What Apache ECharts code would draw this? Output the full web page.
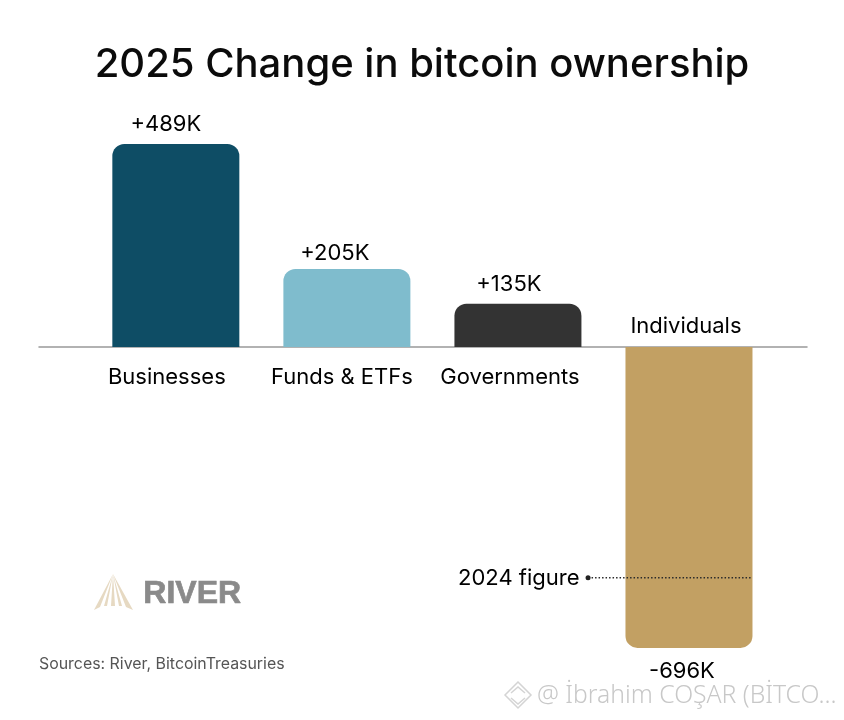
<!DOCTYPE html>
<html><head><meta charset="utf-8">
<style>html,body{margin:0;padding:0;background:#fff}#c{width:844px;height:720px}</style>
<script src="https://cdn.jsdelivr.net/npm/echarts@6/dist/echarts.min.js"></script>
</head><body><div id="c"></div>
<script>
const categories = ['Businesses', 'Funds & ETFs', 'Governments', 'Individuals'];
const valueLabels = ['+489K', '+205K', '+135K', '-696K'];
// Bar lengths as drawn in the picture, in K at the Businesses bar's scale.
// The reference's bars are not exactly proportional to their printed labels.
const drawnLengths = [489, 188, 104, -725];
const barColors = ['#0e4d65', '#7fbccd', '#333333', '#c2a063'];
const figure2024 = -556;
const figure2024Span = [2.41, 3.37];

const F = 'Inter, "Noto Sans", sans-serif';
const valueDx = [-10, -12, -9, -7];
const valueDy = [0, 4, 1, 3];
const nameDx = [-9, -5, -8, -3];

const chart = echarts.init(document.getElementById('c'), null, {renderer: 'canvas'});
chart.setOption({
  animation: false,
  backgroundColor: '#fff',
  title: {
    text: '2025 Change in bitcoin ownership', left: 417, top: 40, textAlign: 'center',
    textStyle: {fontFamily: F, fontSize: 40, fontWeight: 500, color: '#0b0b0b'}
  },
  grid: {left: 39, width: 768, top: 98, height: 581},
  xAxis: {
    type: 'value', min: -0.8, max: 3.69,
    axisLine: {show: true, onZero: true, lineStyle: {color: '#999', width: 1.5}},
    axisTick: {show: false}, axisLabel: {show: false}, splitLine: {show: false}
  },
  yAxis: {type: 'value', min: -800, max: 600, show: false, splitLine: {show: false}},
  series: [
    {
      type: 'bar', barWidth: 127, z: 1,
      data: drawnLengths.map((v, i) => ({
        value: [i, v],
        itemStyle: {color: barColors[i], borderRadius: v >= 0 ? [12, 12, 0, 0] : [0, 0, 12, 12]},
        label: {
          show: true, position: v >= 0 ? 'top' : 'bottom', distance: v >= 0 ? 9 : 10,
          offset: [valueDx[i], valueDy[i]], formatter: valueLabels[i],
          fontFamily: F, fontSize: 22, color: '#000'
        }
      }))
    },
    {
      type: 'scatter', symbolSize: 0, z: 5, silent: true,
      itemStyle: {opacity: 1},
      data: categories.map((c, i) => ({
        value: [i, 0],
        label: {
          show: true, position: i < 3 ? 'bottom' : 'top', distance: i < 3 ? 19 : 10,
          offset: [nameDx[i], 0], formatter: c,
          fontFamily: F, fontSize: 22, color: '#000'
        }
      }))
    },
    {
      type: 'line', z: 6, silent: true, showSymbol: true,
      symbol: 'circle', symbolSize: 5,
      lineStyle: {color: '#2a2a2a', width: 1.5, type: [1.5, 2]},
      itemStyle: {color: '#222'},
      data: [
        {value: [figure2024Span[0], figure2024],
         label: {show: true, position: 'left', distance: 6, offset: [0, 1], formatter: '2024 figure',
                 fontFamily: F, fontSize: 22, color: '#000'}},
        {value: [figure2024Span[1], figure2024], symbol: 'none'}
      ]
    }
  ],
  graphic: [
    {type: 'text', left: 39, top: 656, style: {text: 'Sources: River, BitcoinTreasuries', font: '15.9px ' + F, fill: '#555'}},
    {type: 'text', left: 143, top: 578, style: {text: 'RIVER', font: '700 32px "Liberation Sans", sans-serif', fill: '#8a8a8a', stroke: '#8a8a8a', lineWidth: 0.7}},
    {type: 'polygon', shape: {points: [[113, 574], [94, 610], [100, 607]]}, style: {fill: '#e6d9c2'}},
    {type: 'polygon', shape: {points: [[113, 574], [133, 610], [126, 607]]}, style: {fill: '#e6d9c2'}},
    {type: 'polygon', shape: {points: [[113, 574], [104, 606], [107, 606]]}, style: {fill: '#e6d9c2'}},
    {type: 'polygon', shape: {points: [[113, 574], [111, 606], [115, 606]]}, style: {fill: '#e6d9c2'}},
    {type: 'polygon', shape: {points: [[113, 574], [119, 606], [122, 606]]}, style: {fill: '#e6d9c2'}},
    {type: 'text', left: 537, top: 683, style: {text: '@ İbrahim COŞAR (BİTCO...', font: '300 24.7px "Noto Sans", sans-serif', fill: '#c8c8c8'}},
    {type: 'polygon', shape: {points: [[518, 682], [531, 695], [518, 708], [505, 695]]}, style: {fill: 'none', stroke: '#d4d4d4', lineWidth: 1.5}},
    {type: 'polyline', shape: {points: [[511, 693], [518, 687], [525, 693]]}, style: {fill: 'none', stroke: '#d4d4d4', lineWidth: 1.5}},
    {type: 'polyline', shape: {points: [[511, 698], [518, 704], [525, 698]]}, style: {fill: 'none', stroke: '#d4d4d4', lineWidth: 1.5}}
  ]
});
</script></body></html>
